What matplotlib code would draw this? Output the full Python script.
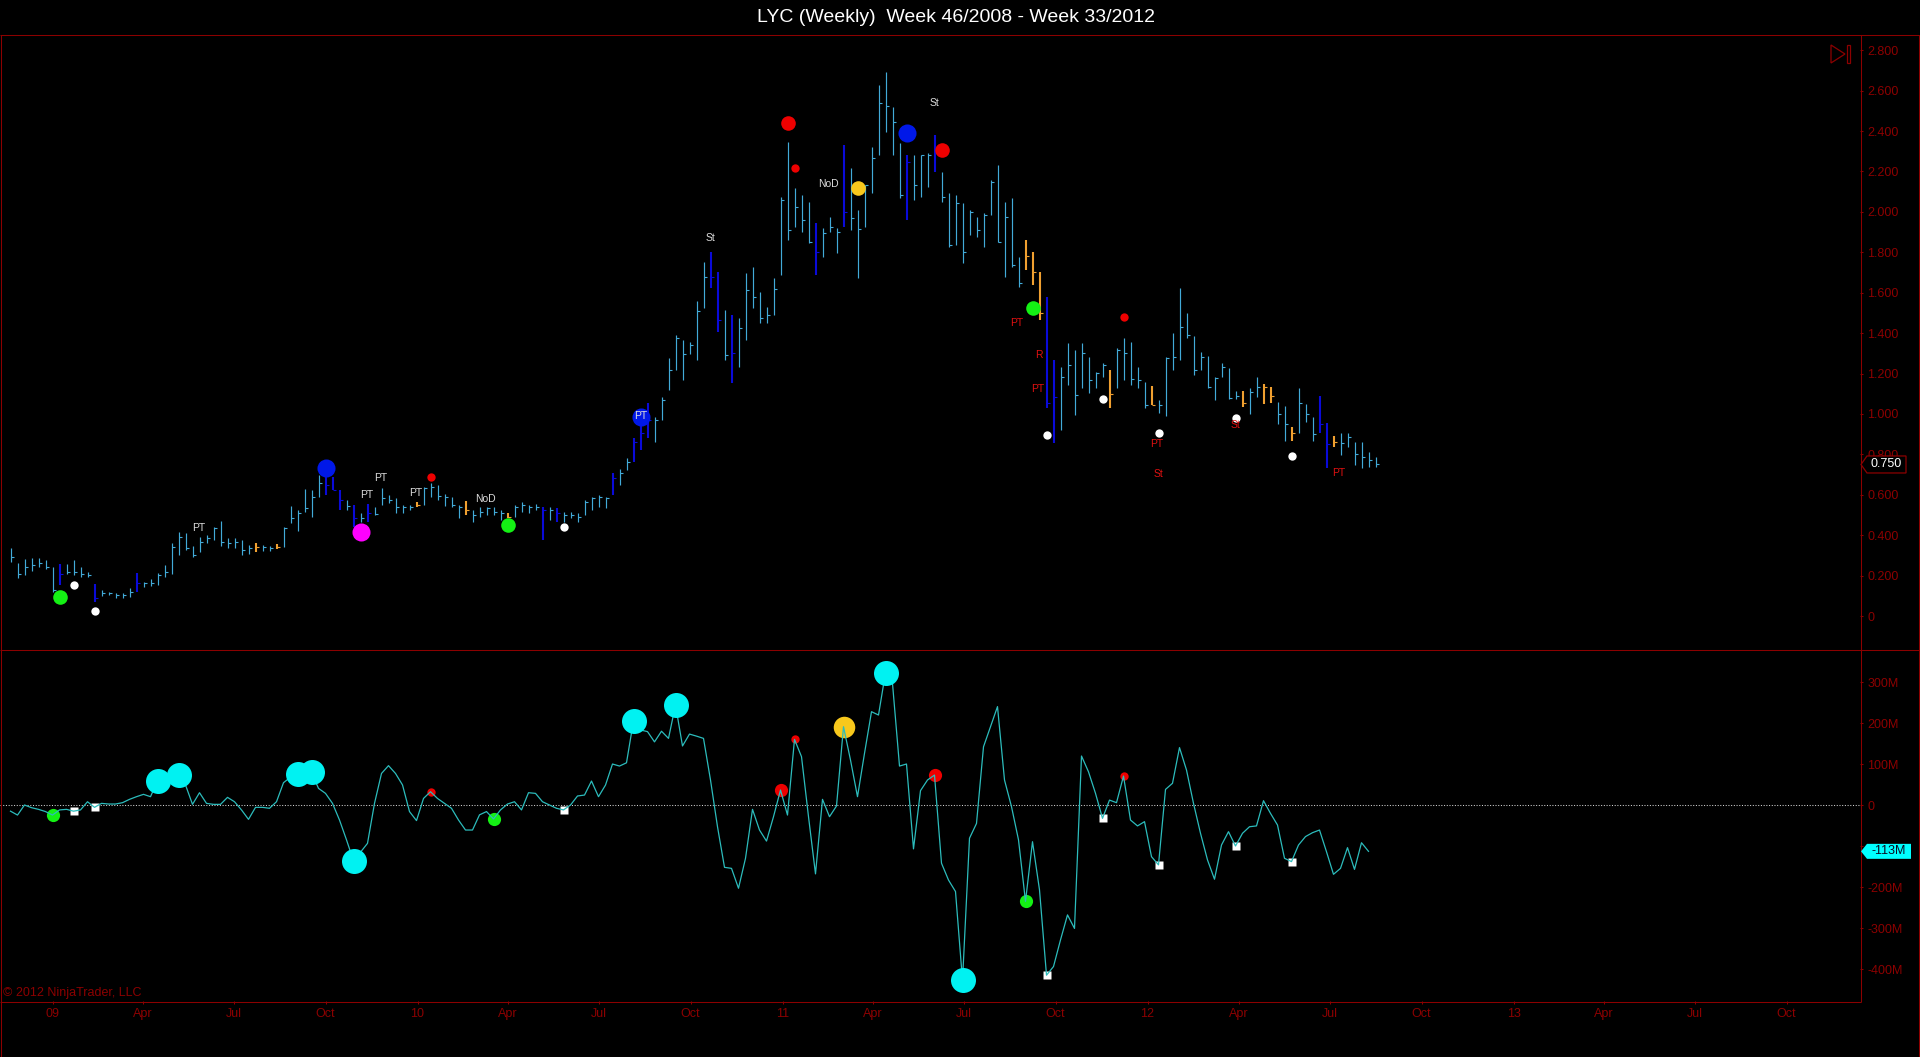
import numpy as np
import pandas as pd
import matplotlib
matplotlib.use('Agg')
import matplotlib.pyplot as plt
import matplotlib.dates as mdates
from matplotlib.lines import Line2D
from matplotlib.patches import Polygon
from matplotlib.transforms import IdentityTransform

plt.rcParams['font.family'] = ['Liberation Sans', 'DejaVu Sans']

# ---------------- data ----------------
title = "LYC (Weekly)  Week 46/2008 - Week 33/2012"
first_bar_date = "2008-11-20"

highs = [0.338, 0.264, 0.280, 0.289, 0.285, 0.277, 0.244, 0.256, 0.260, 0.277,
         0.244, 0.219, 0.158, 0.128, 0.120, 0.115, 0.112, 0.137, 0.214, 0.170,
         0.181, 0.211, 0.252, 0.363, 0.417, 0.409, 0.346, 0.392, 0.401, 0.442,
         0.470, 0.384, 0.384, 0.376, 0.351, 0.360, 0.351, 0.346, 0.356, 0.442,
         0.544, 0.525, 0.627, 0.624, 0.698, 0.698, 0.690, 0.624, 0.574, 0.549,
         0.508, 0.554, 0.541, 0.632, 0.599, 0.582, 0.549, 0.549, 0.566, 0.640,
         0.656, 0.648, 0.604, 0.590, 0.549, 0.569, 0.524, 0.538, 0.541, 0.538,
         0.524, 0.508, 0.549, 0.566, 0.549, 0.554, 0.541, 0.538, 0.533, 0.516,
         0.516, 0.508, 0.574, 0.590, 0.599, 0.590, 0.706, 0.730, 0.780, 0.879,
         0.978, 1.052, 0.986, 1.085, 1.275, 1.390, 1.365, 1.357, 1.560, 1.753,
         1.800, 1.704, 1.514, 1.490, 1.473, 1.696, 1.729, 1.605, 1.531, 1.671,
         2.075, 2.347, 2.116, 2.083, 2.050, 1.943, 1.918, 1.976, 1.918, 2.330,
         2.215, 2.009, 2.133, 2.322, 2.627, 2.693, 2.520, 2.339, 2.281, 2.281,
         2.281, 2.289, 2.380, 2.199, 2.091, 2.083, 2.042, 2.009, 1.976, 1.992,
         2.157, 2.232, 2.050, 2.067, 1.778, 1.861, 1.803, 1.704, 1.580, 1.267,
         1.234, 1.349, 1.316, 1.349, 1.283, 1.209, 1.250, 1.217, 1.324, 1.374,
         1.357, 1.234, 1.160, 1.138, 1.069, 1.280, 1.399, 1.621, 1.501, 1.385,
         1.308, 1.287, 1.184, 1.250, 1.226, 1.115, 1.113, 1.127, 1.184, 1.148,
         1.135, 1.061, 1.039, 0.934, 1.127, 1.049, 0.986, 1.089, 0.953, 0.891,
         0.904, 0.907, 0.863, 0.863, 0.813, 0.789]

lows = [0.269, 0.190, 0.203, 0.224, 0.244, 0.231, 0.120, 0.153, 0.208, 0.203,
        0.195, 0.191, 0.071, 0.099, 0.104, 0.087, 0.087, 0.095, 0.120, 0.145,
        0.148, 0.153, 0.195, 0.208, 0.302, 0.326, 0.294, 0.318, 0.360, 0.376,
        0.346, 0.335, 0.335, 0.302, 0.307, 0.318, 0.321, 0.323, 0.330, 0.343,
        0.459, 0.420, 0.516, 0.492, 0.591, 0.599, 0.624, 0.525, 0.525, 0.442,
        0.467, 0.467, 0.500, 0.549, 0.557, 0.508, 0.511, 0.524, 0.538, 0.549,
        0.590, 0.574, 0.544, 0.538, 0.483, 0.500, 0.467, 0.491, 0.500, 0.500,
        0.475, 0.483, 0.491, 0.516, 0.508, 0.524, 0.376, 0.475, 0.467, 0.467,
        0.483, 0.467, 0.500, 0.524, 0.541, 0.533, 0.599, 0.648, 0.722, 0.763,
        0.821, 0.879, 0.862, 0.970, 1.118, 1.217, 1.167, 1.299, 1.267, 1.522,
        1.621, 1.407, 1.267, 1.152, 1.234, 1.366, 1.523, 1.448, 1.448, 1.490,
        1.687, 1.861, 1.927, 1.902, 1.844, 1.687, 1.778, 1.902, 1.795, 1.927,
        1.910, 1.671, 1.927, 2.091, 2.281, 2.396, 2.281, 2.067, 1.960, 2.058,
        2.075, 2.124, 2.199, 2.050, 1.828, 1.836, 1.745, 1.885, 1.877, 1.828,
        1.984, 1.852, 1.679, 1.729, 1.630, 1.712, 1.638, 1.465, 1.028, 0.855,
        0.920, 1.143, 0.995, 1.127, 1.102, 1.127, 1.184, 1.028, 1.127, 1.168,
        1.143, 1.127, 1.028, 1.044, 1.003, 0.990, 1.217, 1.267, 1.374, 1.193,
        1.217, 1.127, 1.069, 1.184, 1.072, 1.072, 1.036, 0.999, 1.085, 1.049,
        1.056, 0.950, 0.868, 0.868, 0.907, 0.962, 0.868, 0.907, 0.731, 0.838,
        0.797, 0.838, 0.747, 0.731, 0.739, 0.739]

closes = [0.294, 0.206, 0.244, 0.252, 0.264, 0.244, 0.128, 0.208, 0.219, 0.219,
          0.208, 0.203, 0.087, 0.115, 0.112, 0.104, 0.104, 0.120, 0.162, 0.162,
          0.162, 0.203, 0.219, 0.343, 0.392, 0.335, 0.302, 0.368, 0.384, 0.434,
          0.368, 0.360, 0.368, 0.327, 0.335, 0.343, 0.340, 0.335, 0.343, 0.434,
          0.483, 0.508, 0.533, 0.591, 0.657, 0.648, 0.624, 0.574, 0.544, 0.483,
          0.483, 0.508, 0.505, 0.582, 0.574, 0.541, 0.538, 0.541, 0.549, 0.632,
          0.640, 0.594, 0.590, 0.549, 0.541, 0.524, 0.500, 0.516, 0.533, 0.516,
          0.508, 0.491, 0.541, 0.549, 0.541, 0.541, 0.524, 0.524, 0.508, 0.500,
          0.500, 0.491, 0.566, 0.582, 0.590, 0.582, 0.681, 0.706, 0.763, 0.862,
          0.904, 0.970, 0.970, 1.069, 1.217, 1.374, 1.299, 1.341, 1.510, 1.679,
          1.679, 1.465, 1.292, 1.300, 1.424, 1.613, 1.580, 1.473, 1.490, 1.617,
          2.058, 1.910, 2.025, 1.960, 1.852, 1.803, 1.894, 1.927, 1.902, 2.000,
          1.968, 1.913, 2.133, 2.265, 2.540, 2.523, 2.446, 2.083, 2.248, 2.133,
          2.281, 2.281, 2.300, 2.075, 1.836, 2.042, 1.800, 2.001, 1.910, 1.984,
          2.149, 1.852, 1.976, 1.737, 1.650, 1.780, 1.700, 1.498, 1.053, 1.086,
          1.184, 1.242, 1.094, 1.300, 1.168, 1.201, 1.242, 1.099, 1.316, 1.300,
          1.171, 1.168, 1.044, 1.044, 1.044, 1.275, 1.280, 1.428, 1.390, 1.217,
          1.283, 1.135, 1.176, 1.234, 1.077, 1.089, 1.052, 1.110, 1.135, 1.135,
          1.090, 1.000, 0.950, 0.904, 1.052, 1.000, 0.900, 0.950, 0.851, 0.863,
          0.855, 0.887, 0.800, 0.789, 0.770, 0.750]

blue_bars = [7, 12, 18, 45, 46, 47, 49, 51, 76, 78, 86, 89, 90, 91, 100, 101,
             103, 115, 119, 128, 132, 148, 149, 187, 188]
orange_bars = [35, 38, 58, 65, 71, 145, 146, 147, 157, 163, 176, 179, 180, 183, 189]

# volume indicator (millions)
volume = [-15, -24.5, 0, -6.5, -10.6, -16, -24.5, -12, -10.6, -15,
          -12, 8, -5.7, 4, 2.4, 2.4, 5.7, 13.8, 20.3, 26,
          20.3, 59, 55, 66, 73, 49, 1.6, 30, 4, 1.6,
          1.6, 18.7, 8, -12, -35, -5.7, -5.7, -8, 8, 54.4,
          68, 75.6, 80, 79.6, 40.6, 28.4, 4, -36.6, -85, -136,
          -115, -93.5, 4, 77, 96, 77, 49, -16, -38, 16,
          32.5, 16, 4, -8, -36.6, -61, -61, -24, -16, -34,
          -12, 2.4, 8, -12, 30, 28.4, 8, 0, -8, -12,
          0, 22, 24.3, 58.5, 20.3, 48.7, 100, 95, 103, 205.6,
          183, 179, 154, 180, 162.5, 244, 144, 173, 168, 162.5,
          61, -53, -152, -154.5, -203, -130, -10.6, -61, -88, -28.5,
          36.5, -24.5, 160, 118, -28.5, -168, 13.8, -28.5, -2.4, 191,
          109.7, 20.3, 126, 227.6, 219.5, 322.7, 296.7, 95, 100, -107,
          35, 61, 73, -142, -183, -211, -428, -81, -45, 142,
          191, 240, 61, -4, -85, -235, -89.5, -207, -415, -394,
          -329, -268, -301, 119.5, 81, 28.4, -32.5, 12, 5.7, 70.7,
          -36.6, -51, -40.6, -126, -146, 38, 53, 140, 85.3, 4,
          -69, -134, -181, -97.6, -65, -100, -69, -53, -51, 10.5,
          -20.4, -48.8, -130, -138, -97.6, -77, -67.5, -61, -114, -169,
          -154.5, -104, -157, -92, -113]

# price panel signal dots (bar index, price, kind)
p_big_idx = [7, 45, 50, 71, 90, 111, 121, 128, 133, 146]
p_big_val = [0.096, 0.734, 0.417, 0.450, 0.986, 2.441, 2.119, 2.392, 2.306, 1.522]
p_big_kind = ['green', 'blue', 'magenta', 'green', 'blue', 'red', 'gold', 'blue', 'red', 'green']

p_small_idx = [9, 12, 60, 79, 112, 148, 156, 159, 164, 175, 183]
p_small_val = [0.155, 0.026, 0.689, 0.442, 2.215, 0.896, 1.074, 1.481, 0.904, 0.981, 0.793]
p_small_kind = ['white', 'white', 'red', 'white', 'red', 'white', 'white', 'red', 'white', 'white', 'white']

# price panel text labels
lbl_pos = [26.9, 50.9, 52.9, 57.9, 67.9, 90.0, 100.0, 116.9, 132.0, 143.8, 146.9, 146.8,
           163.8, 164.0, 175.0, 189.8]
lbl_val = [0.434, 0.599, 0.684, 0.610, 0.577, 0.990, 1.869, 2.138, 2.540, 1.448, 1.291, 1.122,
           0.851, 0.703, 0.945, 0.709]
lbl_txt = ['PT', 'PT', 'PT', 'PT', 'NoD', 'PT', 'St', 'NoD', 'St', 'PT', 'R', 'PT',
           'PT', 'St', 'St', 'PT']
lbl_kind = ['white'] * 9 + ['red'] * 7

# volume panel signal dots (bar index)
v_cyan_idx = [21, 24, 41, 43, 49, 89, 95, 125, 136]
v_green_idx = [6, 69, 145]
v_white_idx = [9, 12, 79, 148, 156, 164, 175, 183]
v_red_small_idx = [60, 112, 159]
v_red_big_idx = [110, 132]
v_gold_idx = [119]

price_ticks = [0, 0.2, 0.4, 0.6, 0.8, 1.0, 1.2, 1.4, 1.6, 1.8, 2.0, 2.2, 2.4, 2.6, 2.8]
vol_ticks = [-400, -300, -200, -100, 0, 100, 200, 300]
vol_hidden_labels = [-100]          # covered by the last-value marker in the original
x_tick_dates = ['2009-01-01', '2009-04-01', '2009-07-01', '2009-10-01',
                '2010-01-01', '2010-04-01', '2010-07-01', '2010-10-01',
                '2011-01-01', '2011-04-01', '2011-07-01', '2011-10-01',
                '2012-01-01', '2012-04-01', '2012-07-01', '2012-10-01',
                '2013-01-01', '2013-04-01', '2013-07-01', '2013-10-01']
x_tick_labels = ['09', 'Apr', 'Jul', 'Oct', '10', 'Apr', 'Jul', 'Oct',
                 '11', 'Apr', 'Jul', 'Oct', '12', 'Apr', 'Jul', 'Oct',
                 '13', 'Apr', 'Jul', 'Oct']

# ---------------- style ----------------
FRAME = '#8c0000'
LABEL = '#8c0000'
BAR = '#42aad8'
COLORS = {'blue': '#0018e8', 'green': '#14f014', 'magenta': '#ff00ff', 'red': '#ee0000',
          'gold': '#f8c81c', 'white': '#ffffff', 'cyan': '#00f2f2'}
TXTCOL = {'white': '#dcdcdc', 'red': '#e01010'}

W, H = 1920, 1057
fig = plt.figure(figsize=(W / 100, H / 100), dpi=100, facecolor='black')


def fx(px):
    return px / W


def fy(py):
    return 1 - py / H


ax1 = fig.add_axes([0, fy(649), fx(1860), fy(34) - fy(649)])
ax2 = fig.add_axes([0, fy(1001), fx(1860), fy(649) - fy(1001)])
for ax in (ax1, ax2):
    ax.set_facecolor('black')
    for s in ax.spines.values():
        s.set_visible(False)

n = min(len(highs), len(lows), len(closes))
dates = pd.date_range(first_bar_date, periods=n, freq='7D')
xs = mdates.date2num(dates.to_pydatetime())
x0 = xs[0]

# price bars
cols = [BAR] * n
lws = [0.85] * n
for i in blue_bars:
    cols[i] = '#0a0ad8'
    lws[i] = 1.5
for i in orange_bars:
    cols[i] = '#f0a030'
    lws[i] = 1.5
ax1.vlines(xs, lows[:n], highs[:n], colors=cols, linewidths=lws, zorder=2)
ax1.hlines(closes[:n], xs, xs + 3, colors=cols, linewidths=0.8, zorder=2)

for i, v, k in zip(p_big_idx, p_big_val, p_big_kind):
    ms = 13 if k in ('blue', 'magenta') else 10.5
    ax1.plot(xs[i], v, 'o', ms=ms, color=COLORS[k], mec='none', zorder=4)
for i, v, k in zip(p_small_idx, p_small_val, p_small_kind):
    ax1.plot(xs[i], v, 'o', ms=6, color=COLORS[k], mec='none', zorder=4)
for p, v, t, k in zip(lbl_pos, lbl_val, lbl_txt, lbl_kind):
    ax1.text(x0 + 7 * p, v, t, color=TXTCOL[k], fontsize=7.5, ha='center', va='center', zorder=5)

ax1.set_xlim(x0 - 10.5, x0 - 10.5 + 1860)
ax1.set_ylim(-0.163, 2.880)
ax1.yaxis.tick_right()
ax1.set_yticks(price_ticks, labels=['0' if t == 0 else f'{t:.3f}' for t in price_ticks])
ax1.tick_params(axis='x', bottom=False, labelbottom=False)
ax1.tick_params(axis='y', colors=FRAME, labelcolor=LABEL, labelsize=9, length=2.2,
                width=0.75, pad=3, direction='out')

# volume panel
vn = len(volume)
vx = xs[:vn]
ax2.axhline(0, color='#d0d0d0', lw=0.75, ls=(0, (1, 1.6)), zorder=1)
for i in v_green_idx:
    ax2.plot(vx[i], volume[i], 'o', ms=9.5, color=COLORS['green'], mec='none', zorder=2)
for i in v_white_idx:
    ax2.plot(vx[i], volume[i], 's', ms=5.5, color=COLORS['white'], mec='none', zorder=2)
for i in v_red_small_idx:
    ax2.plot(vx[i], volume[i], 'o', ms=6, color=COLORS['red'], mec='none', zorder=2)
for i in v_red_big_idx:
    ax2.plot(vx[i], volume[i], 'o', ms=9.5, color=COLORS['red'], mec='none', zorder=2)
for i in v_gold_idx:
    ax2.plot(vx[i], volume[i], 'o', ms=15.5, color=COLORS['gold'], mec='none', zorder=2)
ax2.plot(vx, volume, color='#2cbcbc', lw=0.9, zorder=3)
for i in v_cyan_idx:
    ax2.plot(vx[i], volume[i], 'o', ms=18, color=COLORS['cyan'], mec='none', zorder=4)

ax2.set_xlim(x0 - 10.5, x0 - 10.5 + 1860)
ax2.set_ylim(-478, 380.5)
ax2.yaxis.tick_right()
ax2.set_yticks(vol_ticks, labels=['' if t in vol_hidden_labels else ('0' if t == 0 else f'{t}M')
                                  for t in vol_ticks])
tick_x = mdates.date2num(pd.to_datetime(x_tick_dates).to_pydatetime())
ax2.set_xticks(tick_x, labels=x_tick_labels)
ax2.tick_params(axis='both', colors=FRAME, labelcolor=LABEL, labelsize=9, length=2.2,
                width=0.75, direction='out')
ax2.tick_params(axis='y', pad=3)
ax2.tick_params(axis='x', pad=3)


# ---------------- frame & decorations ----------------
def px_line(xa, ya, xb, yb, color=FRAME):
    fig.add_artist(Line2D([fx(xa), fx(xb)], [fy(ya), fy(yb)], transform=fig.transFigure,
                          color=color, lw=0.75, solid_capstyle='butt'))


px_line(0, 34.5, 1920, 34.5)
px_line(0, 649.5, 1919, 649.5)
px_line(0, 1001.5, 1860.5, 1001.5)
px_line(1860.5, 34.5, 1860.5, 1001.5)
px_line(0.5, 34.5, 0.5, 1056.5)
px_line(1918.5, 34.5, 1918.5, 1056.5)
px_line(0, 1056.5, 1919, 1056.5)

# end-of-chart icon
fig.add_artist(Polygon([(1831, H - 45), (1845, H - 54), (1831, H - 63)], closed=True,
                       fill=False, edgecolor=FRAME, lw=0.9, transform=IdentityTransform()))
fig.add_artist(Polygon([(1847, H - 45), (1850, H - 45), (1850, H - 63), (1847, H - 63)],
                       closed=True, fill=False, edgecolor=FRAME, lw=0.9,
                       transform=IdentityTransform()))

# last price marker
yd = ax1.transData.transform((x0, closes[n - 1]))[1]
fig.add_artist(Polygon([(1861, yd), (1867, yd + 8.5), (1906, yd + 8.5), (1906, yd - 8.5),
                        (1867, yd - 8.5)], closed=True, facecolor='black', edgecolor=FRAME,
                       lw=0.9, transform=IdentityTransform(), zorder=5))
fig.text(1886.5, yd, f'{closes[n - 1]:.3f}', color='white', fontsize=9, ha='center',
         va='center', transform=IdentityTransform(), zorder=6)

# last volume marker
yv = ax2.transData.transform((x0, volume[-1]))[1]
fig.add_artist(Polygon([(1861, yv), (1867, yv + 7.5), (1911, yv + 7.5), (1911, yv - 7.5),
                        (1867, yv - 7.5)], closed=True, facecolor='#00ffff', edgecolor='none',
                       transform=IdentityTransform(), zorder=5))
fig.text(1889, yv, f'{round(volume[-1])}M', color='#0a0a20', fontsize=9, ha='center',
         va='center', transform=IdentityTransform(), zorder=6)

fig.text(fx(955.7), fy(17), title, color='white', fontsize=14, ha='center', va='center')
fig.text(fx(3), fy(993), '\u00a9 2012 NinjaTrader, LLC', color=LABEL, fontsize=9,
         ha='left', va='center')

fig.savefig('out.png', dpi=100, facecolor='black')
